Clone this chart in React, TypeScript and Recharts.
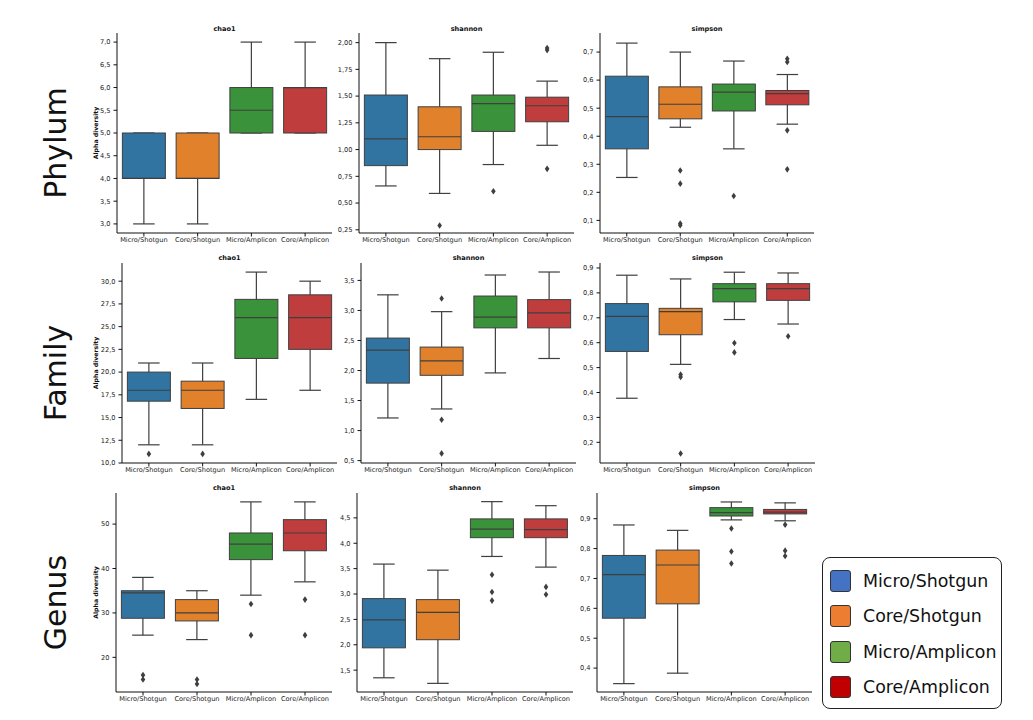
import { Bar, ComposedChart, Scatter, XAxis, YAxis } from "recharts";

const categories = ["Micro/Shotgun", "Core/Shotgun", "Micro/Amplicon", "Core/Amplicon"];
const boxColors = ["#3274a1", "#e1812c", "#3a923a", "#c03d3e"];
const legendColors = ["#4472c4", "#ed7d31", "#70ad47", "#c00000"];
const rowLabels = ["Phylum", "Family", "Genus"];
const metrics = ["chao1", "shannon", "simpson"];

// each box: [low whisker, q1, median, q3, high whisker]
const phylumChao1 = [[3, 4, 4, 5, 5], [3, 4, 4, 5, 5], [5, 5, 5.5, 6, 7], [5, 5, 6, 6, 7]];
const phylumChao1Out = [[], [], [], []];
const phylumShannon = [[0.66, 0.85, 1.1, 1.51, 2.0], [0.59, 1.0, 1.12, 1.4, 1.85], [0.86, 1.17, 1.43, 1.51, 1.91], [1.04, 1.26, 1.41, 1.49, 1.64]];
const phylumShannonOut = [[], [0.29], [0.61], [1.95, 1.93, 0.82]];
const phylumSimpson = [[0.253, 0.355, 0.47, 0.614, 0.732], [0.432, 0.462, 0.514, 0.576, 0.7], [0.355, 0.49, 0.557, 0.586, 0.668], [0.443, 0.512, 0.552, 0.563, 0.62]];
const phylumSimpsonOut = [[], [0.278, 0.231, 0.089, 0.083], [0.187], [0.676, 0.665, 0.421, 0.282]];

const familyChao1 = [[12, 16.8, 18, 20, 21], [12, 16, 18, 19, 21], [17, 21.5, 26, 28, 31], [18, 22.5, 26, 28.5, 30]];
const familyChao1Out = [[11], [11], [], []];
const familyShannon = [[1.21, 1.79, 2.34, 2.54, 3.26], [1.36, 1.92, 2.16, 2.39, 2.98], [1.96, 2.71, 2.89, 3.24, 3.59], [2.2, 2.71, 2.96, 3.18, 3.64]];
const familyShannonOut = [[], [3.2, 1.18, 0.62], [], []];
const familySimpson = [[0.377, 0.565, 0.706, 0.757, 0.871], [0.513, 0.632, 0.725, 0.738, 0.856], [0.693, 0.764, 0.817, 0.837, 0.883], [0.675, 0.77, 0.817, 0.837, 0.88]];
const familySimpsonOut = [[], [0.472, 0.462, 0.155], [0.599, 0.561], [0.626]];

const genusChao1 = [[25, 28.8, 34.5, 35, 38], [24, 28.2, 30, 33, 35], [34, 42, 45.5, 48, 55], [37, 44, 48, 51, 55]];
const genusChao1Out = [[16, 15], [15, 14], [32, 25], [33, 25]];
const genusShannon = [[1.35, 1.94, 2.49, 2.91, 3.59], [1.24, 2.1, 2.64, 2.89, 3.47], [3.74, 4.11, 4.28, 4.48, 4.82], [3.53, 4.11, 4.27, 4.48, 4.74]];
const genusShannonOut = [[], [], [3.38, 3.04, 2.87], [3.14, 2.99]];
const genusSimpson = [[0.348, 0.567, 0.713, 0.777, 0.879], [0.383, 0.615, 0.745, 0.795, 0.861], [0.896, 0.909, 0.92, 0.937, 0.956], [0.893, 0.916, 0.922, 0.931, 0.953]];
const genusSimpsonOut = [[], [], [0.867, 0.79, 0.75], [0.88, 0.793, 0.775]];

// y axis ticks per panel
const ticksPhylumChao1 = [3, 3.5, 4, 4.5, 5, 5.5, 6, 6.5, 7];
const ticksPhylumShannon = [0.25, 0.5, 0.75, 1, 1.25, 1.5, 1.75, 2];
const ticksPhylumSimpson = [0.1, 0.2, 0.3, 0.4, 0.5, 0.6, 0.7];
const ticksFamilyChao1 = [10, 12.5, 15, 17.5, 20, 22.5, 25, 27.5, 30];
const ticksFamilyShannon = [0.5, 1, 1.5, 2, 2.5, 3, 3.5];
const ticksFamilySimpson = [0.2, 0.3, 0.4, 0.5, 0.6, 0.7, 0.8, 0.9];
const ticksGenusChao1 = [20, 30, 40, 50];
const ticksGenusShannon = [1.5, 2, 2.5, 3, 3.5, 4, 4.5];
const ticksGenusSimpson = [0.4, 0.5, 0.6, 0.7, 0.8, 0.9];

const panels = [
  { stats: phylumChao1, out: phylumChao1Out, ticks: ticksPhylumChao1, domain: [2.8, 7.2], digits: 1 },
  { stats: phylumShannon, out: phylumShannonOut, ticks: ticksPhylumShannon, domain: [0.22, 2.09], digits: 2 },
  { stats: phylumSimpson, out: phylumSimpsonOut, ticks: ticksPhylumSimpson, domain: [0.055, 0.768], digits: 1 },
  { stats: familyChao1, out: familyChao1Out, ticks: ticksFamilyChao1, domain: [10, 32], digits: 1 },
  { stats: familyShannon, out: familyShannonOut, ticks: ticksFamilyShannon, domain: [0.46, 3.79], digits: 1 },
  { stats: familySimpson, out: familySimpsonOut, ticks: ticksFamilySimpson, domain: [0.117, 0.92], digits: 1 },
  { stats: genusChao1, out: genusChao1Out, ticks: ticksGenusChao1, domain: [12.2, 57], digits: 0 },
  { stats: genusShannon, out: genusShannonOut, ticks: ticksGenusShannon, domain: [1.07, 4.99], digits: 1 },
  { stats: genusSimpson, out: genusSimpsonOut, ticks: ticksGenusSimpson, domain: [0.32, 0.986], digits: 1 },
];

// plot area of each panel: left, top, width, height
const plotBoxes = [
  [117, 33, 215, 200], [359, 33, 215, 200], [600, 33, 214, 200],
  [122, 263, 215, 200], [361, 263, 215, 200], [600, 263, 215, 200],
  [116, 493, 216, 199], [357, 493, 216, 199], [597, 493, 215, 199],
];
const titleY = [31, 260, 490];

const YW = 36;
const XH = 24;
const EDGE = "#3f3f3f";
const font = "DejaVu Sans";

function span(y: number, h: number) {
  return [Math.min(y, y + h), Math.max(y, y + h)];
}

function Whisker(props: any) {
  const { x, y, width, height } = props;
  const [t, b] = span(y, height);
  const cx = x + width / 2;
  const cap = width / 4;
  return (
    <g stroke={EDGE} strokeWidth={1.2}>
      <line x1={cx} x2={cx} y1={t} y2={b} />
      <line x1={cx - cap} x2={cx + cap} y1={t} y2={t} />
      <line x1={cx - cap} x2={cx + cap} y1={b} y2={b} />
    </g>
  );
}

function BoxRect(props: any) {
  const { x, y, width, height, payload } = props;
  const [t, b] = span(y, height);
  return <rect x={x} y={t} width={width} height={b - t} fill={payload.color} stroke={EDGE} strokeWidth={1} />;
}

function Median(props: any) {
  const { x, y, width, height } = props;
  const [t] = span(y, height);
  return <line x1={x} x2={x + width} y1={t} y2={t} stroke={EDGE} strokeWidth={1.2} />;
}

function Diamond(props: any) {
  const { cx, cy } = props;
  return <path d={`M${cx},${cy - 3.3}L${cx + 2.3},${cy}L${cx},${cy + 3.3}L${cx - 2.3},${cy}Z`} fill={EDGE} />;
}

function BoxPanel({ idx }: { idx: number }) {
  const p = panels[idx];
  const [left, top, w, h] = plotBoxes[idx];
  const rows = categories.map((name, i) => ({
    name,
    whisk: [p.stats[i][0], p.stats[i][4]],
    box: [p.stats[i][1], p.stats[i][3]],
    med: [p.stats[i][2], p.stats[i][2]],
    color: boxColors[i],
  }));
  const fliers = p.out.flatMap((vals, i) => vals.map((v) => ({ name: categories[i], v })));
  const tick = { fontSize: 6.6, fill: "#222", fontFamily: font };
  return (
    <div style={{ position: "absolute", left: left - YW, top }}>
      <ComposedChart
        width={YW + w + 4}
        height={h + XH}
        data={rows}
        margin={{ top: 0, right: 4, bottom: 0, left: 0 }}
        barCategoryGap="10%"
      >
        <XAxis
          xAxisId="main"
          dataKey="name"
          type="category"
          allowDuplicatedCategory={false}
          interval={0}
          height={XH}
          tick={tick}
          tickSize={3.5}
          tickMargin={1}
          axisLine={{ stroke: "#111" }}
          tickLine={{ stroke: "#111" }}
        />
        <XAxis xAxisId="whisk" dataKey="name" type="category" allowDuplicatedCategory={false} hide />
        <XAxis xAxisId="med" dataKey="name" type="category" allowDuplicatedCategory={false} hide />
        <YAxis
          type="number"
          domain={p.domain}
          ticks={p.ticks}
          allowDataOverflow
          width={YW}
          tick={tick}
          tickSize={3.5}
          tickMargin={3}
          axisLine={{ stroke: "#111" }}
          tickLine={{ stroke: "#111" }}
          tickFormatter={(v: number) => v.toFixed(p.digits).replace(".", ",")}
        />
        <Bar xAxisId="whisk" dataKey="whisk" shape={(s: any) => <Whisker {...s} />} isAnimationActive={false} />
        <Bar xAxisId="main" dataKey="box" shape={(s: any) => <BoxRect {...s} />} isAnimationActive={false} />
        <Bar xAxisId="med" dataKey="med" shape={(s: any) => <Median {...s} />} isAnimationActive={false} />
        <Scatter xAxisId="main" data={fliers} dataKey="v" shape={(s: any) => <Diamond {...s} />} isAnimationActive={false} />
      </ComposedChart>
    </div>
  );
}

function Legend() {
  return (
    <div
      style={{
        position: "absolute",
        left: 822,
        top: 557,
        width: 178,
        height: 150,
        border: "1.5px solid #222",
        borderRadius: 8,
        background: "#fff",
      }}
    >
      {categories.map((c, i) => (
        <div key={c} style={{ position: "absolute", left: 7, top: 11 + i * 35.3, height: 24, display: "flex", alignItems: "center" }}>
          <div
            style={{
              width: 21,
              height: 22,
              background: legendColors[i],
              border: "1px solid #333",
              borderRadius: 3,
              boxSizing: "border-box",
            }}
          />
          <span style={{ marginLeft: 12, fontSize: 17.4, fontFamily: font, color: "#111", whiteSpace: "nowrap" }}>{c}</span>
        </div>
      ))}
    </div>
  );
}

export default function App() {
  return (
    <div style={{ position: "absolute", left: 0, top: 0, width: 1033, height: 720, background: "#fff", overflow: "hidden" }}>
      {panels.map((_, i) => (
        <BoxPanel key={i} idx={i} />
      ))}
      <svg width={1033} height={720} style={{ position: "absolute", left: 0, top: 0, pointerEvents: "none" }}>
        {plotBoxes.map(([l, t, w, h], i) => (
          <text
            key={"t" + i}
            x={l + w / 2}
            y={titleY[Math.floor(i / 3)]}
            textAnchor="middle"
            fontSize={6.6}
            fontWeight="bold"
            fontFamily={font}
            fill="#111"
          >
            {metrics[i % 3]}
          </text>
        ))}
        {rowLabels.map((r, i) => {
          const [, t, , h] = plotBoxes[i * 3];
          const cy = t + h / 2;
          return (
            <g key={r}>
              <text transform={`translate(66,${cy + 10}) rotate(-90)`} textAnchor="middle" fontSize={30} fontFamily={font} fill="#111">
                {r}
              </text>
              <text transform={`translate(98,${cy}) rotate(-90)`} textAnchor="middle" fontSize={6.2} fontWeight="bold" fontFamily={font} fill="#111">
                Alpha diversity
              </text>
            </g>
          );
        })}
      </svg>
      <Legend />
    </div>
  );
}
